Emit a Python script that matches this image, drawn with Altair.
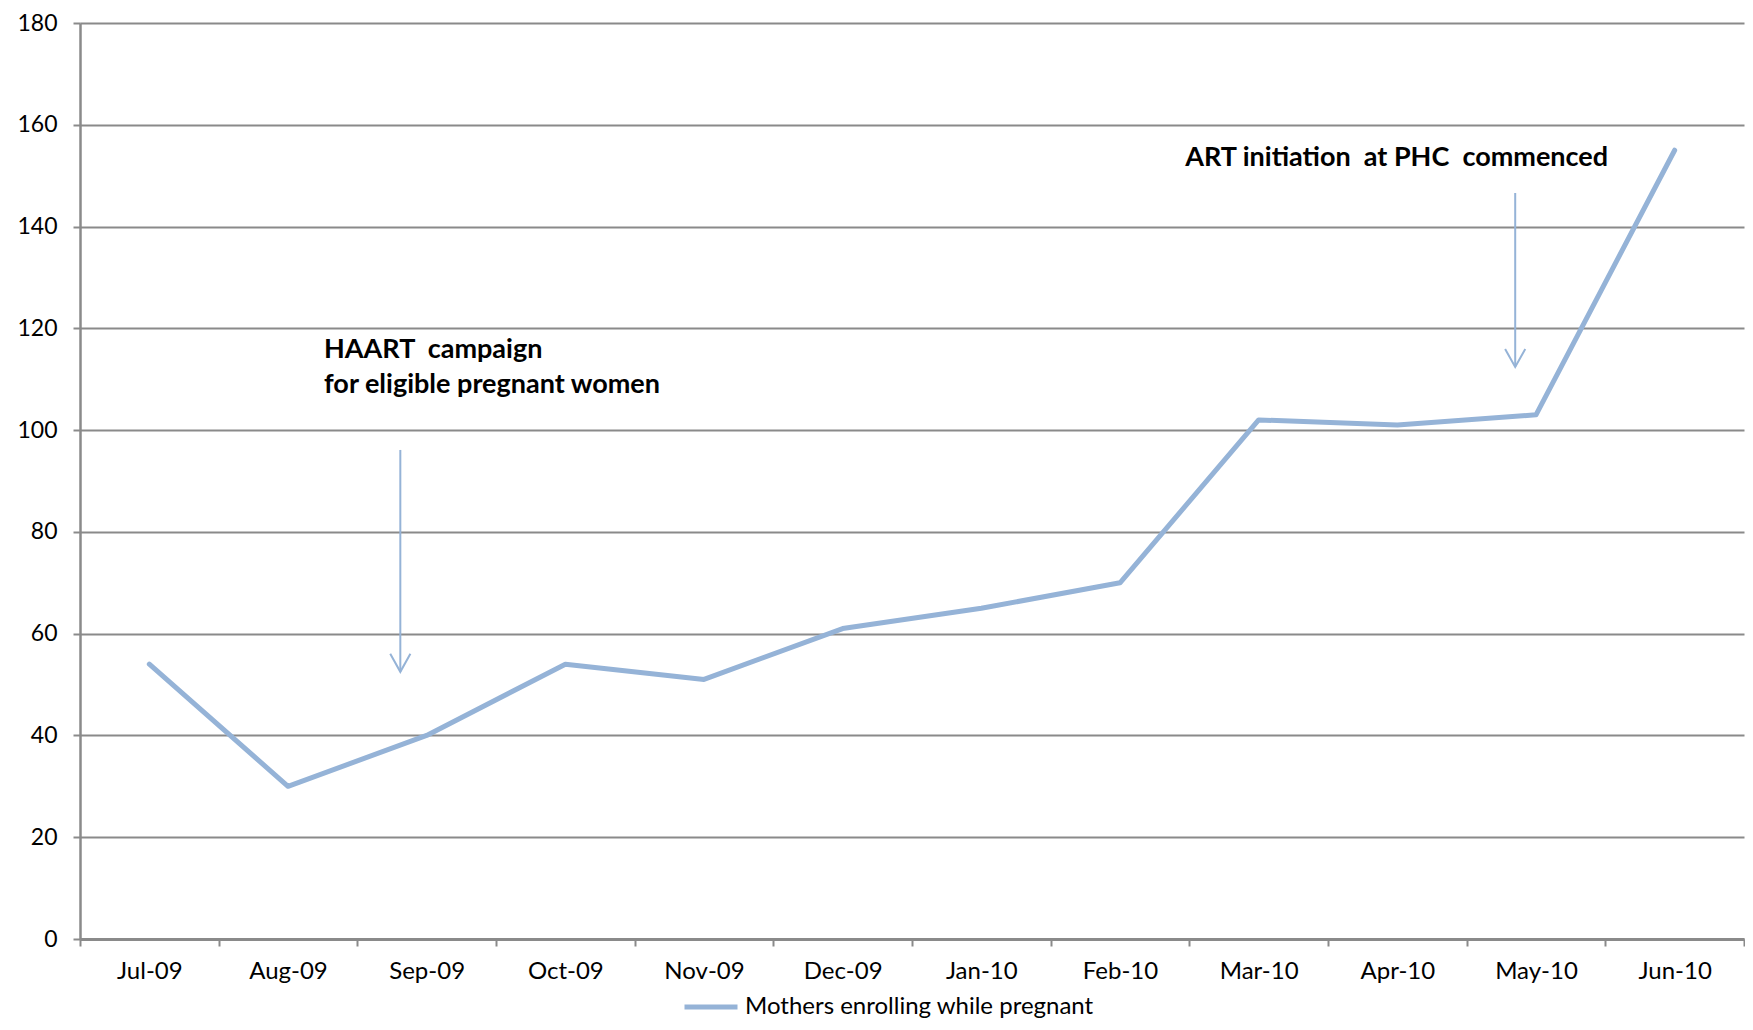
import altair as alt
import pandas as pd

months = ["Jul-09", "Aug-09", "Sep-09", "Oct-09", "Nov-09", "Dec-09",
          "Jan-10", "Feb-10", "Mar-10", "Apr-10", "May-10", "Jun-10"]
values = [54, 30, 40, 54, 51, 61, 65, 70, 102, 101, 103, 155]
series_name = "Mothers enrolling while pregnant"

# annotations (x in month-index units, y in data units)
ann_text = ["HAART\u00a0 campaign", "for eligible pregnant women",
            "ART initiation\u00a0 at PHC\u00a0 commenced"]
ann_text_x = [1.76, 1.76, 7.97]
ann_text_y = [115.7, 108.9, 153.5]

arrow_x = [2.31, 10.35]
arrow_top = [96.1, 146.6]
arrow_tip = [52.5, 112.4]

LINE_COLOR = "#95B3D7"
GRID = "#8a8a8a"
FONT = "Lato"

df = pd.DataFrame({"month": months, "value": values, "series": series_name})
ann_df = pd.DataFrame({"text": ann_text, "x": ann_text_x, "y": ann_text_y})
arr_df = pd.DataFrame({"x": arrow_x, "top": arrow_top, "tip": arrow_tip})

yscale = alt.Scale(domain=[0, 180], nice=False, zero=True)
xq = alt.Scale(domain=[0, 12], nice=False, zero=False)

line = alt.Chart(df).mark_line(strokeWidth=5, strokeJoin="round", strokeCap="round").encode(
    x=alt.X("month:N", sort=months, title=None,
            scale=alt.Scale(paddingInner=0, paddingOuter=0),
            axis=alt.Axis(labelAngle=0, tickBand="extent", grid=False,
                          domainColor=GRID, domainWidth=3, tickColor=GRID,
                          tickWidth=2, tickSize=7, labelPadding=13,
                          labelFontSize=24, labelColor="#000000", labelFont=FONT)),
    y=alt.Y("value:Q", scale=yscale, title=None,
            axis=alt.Axis(values=list(range(0, 181, 20)), grid=True, gridColor=GRID,
                          gridWidth=2, domainColor=GRID, domainWidth=2.5,
                          tickColor=GRID, tickWidth=2, tickSize=7, labelPadding=16,
                          labelFontSize=23, labelColor="#000000", labelFont=FONT)),
    color=alt.Color("series:N", scale=alt.Scale(range=[LINE_COLOR]), title=None,
                    legend=alt.Legend(orient="none", legendX=602, legendY=955,
                                      symbolType="stroke", symbolSize=2809,
                                      symbolStrokeWidth=5, labelFontSize=24,
                                      labelFont=FONT, labelColor="#000000",
                                      labelOffset=5, padding=0, labelLimit=600)),
)

shaft = alt.Chart(arr_df).mark_rule(color=LINE_COLOR, strokeWidth=2).encode(
    x=alt.X("x:Q", scale=xq, axis=None),
    y=alt.Y("top:Q", scale=yscale, title=None),
    y2="tip:Q",
)

head = alt.Chart(arr_df).mark_point(
    shape="M-0.56,-1L0,0L0.56,-1", size=1296, filled=False,
    stroke=LINE_COLOR, strokeWidth=2, opacity=1,
).encode(
    x=alt.X("x:Q", scale=xq, axis=None),
    y=alt.Y("tip:Q", scale=yscale, title=None),
)

texts = alt.Chart(ann_df).mark_text(
    align="left", baseline="middle", fontSize=27, fontWeight="bold",
    font=FONT, color="#000000",
).encode(
    x=alt.X("x:Q", scale=xq, axis=None),
    y=alt.Y("y:Q", scale=yscale, title=None),
    text="text:N",
)

chart = alt.layer(line, shaft, head, texts).resolve_scale(x="independent").properties(
    width=1664, height=916,
    padding={"left": 72, "top": 15, "right": 1, "bottom": 79},
    autosize=alt.AutoSizeParams(type="none"),
).configure(background="white").configure_view(stroke=None)

chart.save("out.html", embed_options={"renderer": "svg", "actions": False})
